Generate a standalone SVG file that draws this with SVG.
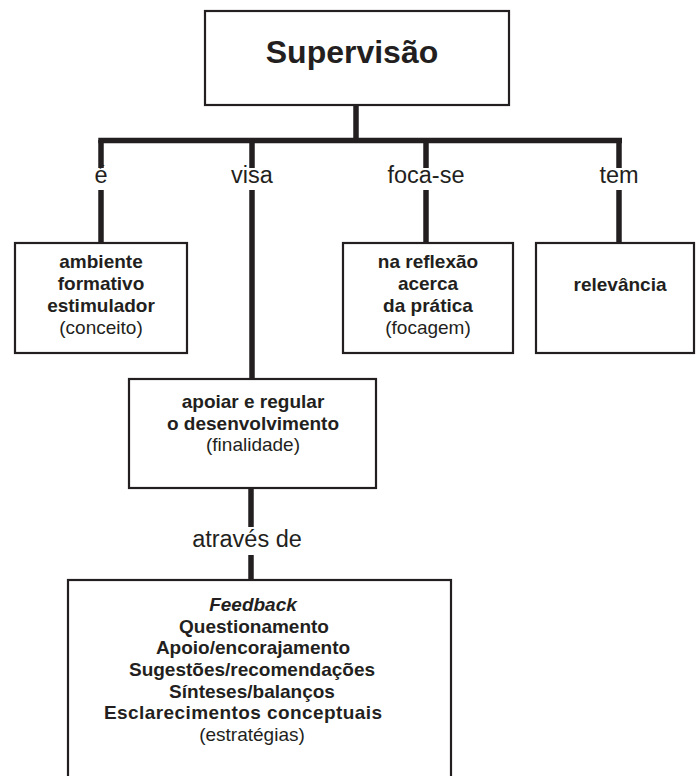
<svg xmlns="http://www.w3.org/2000/svg" width="696" height="776" viewBox="0 0 696 776">
<style>
.box{fill:#fff;stroke:#231f20;stroke-width:2.2}
.con{stroke:#231f20;stroke-width:5.5;fill:none}
text{font-family:"Liberation Sans",Arial,sans-serif;fill:#231f20;text-anchor:middle}
.b{font-weight:bold;font-size:19px}
.r{font-size:19px}
.lab{font-size:23.5px}
.title{font-weight:bold;font-size:32px}
</style>
<rect width="696" height="776" fill="#fff"/>
<g id="connectors">
<line class="con" x1="356" y1="105" x2="356" y2="141"/>
<line class="con" x1="98.3" y1="140.5" x2="622" y2="140.5"/>
<line class="con" x1="101" y1="140" x2="101" y2="168"/>
<line class="con" x1="101" y1="190" x2="101" y2="243"/>
<line class="con" x1="252" y1="140" x2="252" y2="168"/>
<line class="con" x1="252" y1="190" x2="252" y2="379"/>
<line class="con" x1="426" y1="140" x2="426" y2="168"/>
<line class="con" x1="426" y1="190" x2="426" y2="243"/>
<line class="con" x1="619" y1="140" x2="619" y2="168"/>
<line class="con" x1="619" y1="190" x2="619" y2="243"/>
<line class="con" x1="251" y1="489" x2="251" y2="527"/>
<line class="con" x1="251" y1="555" x2="251" y2="580"/>
<text class="lab" x="101" y="183">é</text>
<text class="lab" x="252" y="183">visa</text>
<text class="lab" x="426" y="183">foca-se</text>
<text class="lab" x="619" y="183">tem</text>
<text class="lab" x="247" y="547">através de</text>
</g>
<g id="supervisao">
<rect class="box" x="205" y="11" width="304" height="94"/>
<text class="title" x="352" y="63">Supervisão</text>
</g>
<g id="ambiente">
<rect class="box" x="15" y="243" width="172" height="110"/>
<text class="b" x="101" y="268">ambiente</text>
<text class="b" x="101" y="290">formativo</text>
<text class="b" x="101" y="312">estimulador</text>
<text class="r" x="101" y="334">(conceito)</text>
</g>
<g id="reflexao">
<rect class="box" x="343" y="243" width="170" height="110"/>
<text class="b" x="428" y="268">na reflexão</text>
<text class="b" x="428" y="290">acerca</text>
<text class="b" x="428" y="312">da prática</text>
<text class="r" x="428" y="334">(focagem)</text>
</g>
<g id="relevancia">
<rect class="box" x="536" y="243" width="158" height="110"/>
<text class="b" x="620" y="291">relevância</text>
</g>
<g id="apoiar">
<rect class="box" x="129" y="379" width="247" height="109"/>
<text class="b" x="253" y="408">apoiar e regular</text>
<text class="b" x="253" y="430">o desenvolvimento</text>
<text class="r" x="253" y="451">(finalidade)</text>
</g>
<g id="estrategias">
<rect class="box" x="68" y="580" width="383" height="220"/>
<text class="b" x="253" y="611" font-style="italic">Feedback</text>
<text class="b" x="254" y="633">Questionamento</text>
<text class="b" x="253" y="654">Apoio/encorajamento</text>
<text class="b" x="252" y="676">Sugestões/recomendações</text>
<text class="b" x="252" y="698">Sínteses/balanços</text>
<text class="b" x="243" y="719" textLength="278" lengthAdjust="spacing">Esclarecimentos conceptuais</text>
<text class="r" x="252" y="741">(estratégias)</text>
</g>
</svg>
